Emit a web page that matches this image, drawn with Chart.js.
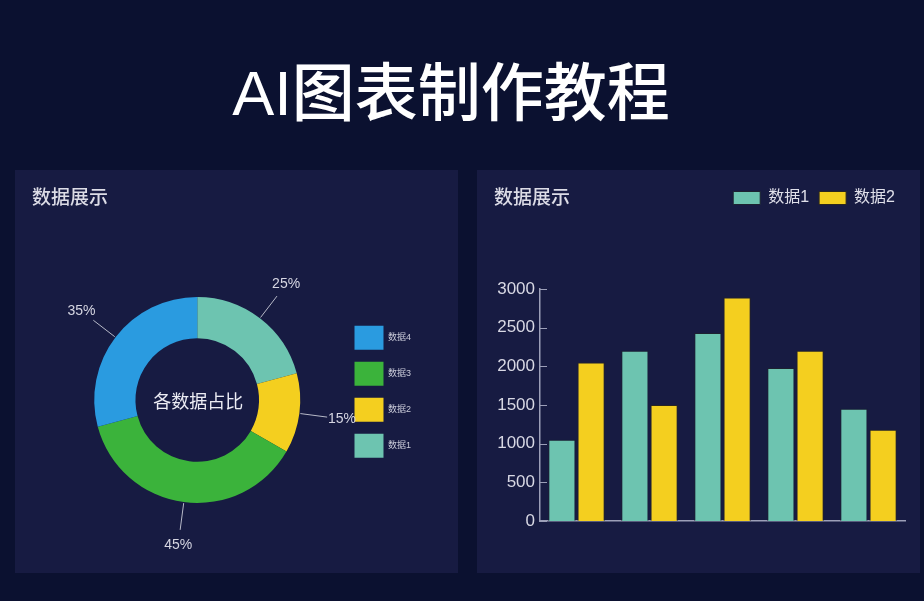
<!DOCTYPE html>
<html lang="zh">
<head>
<meta charset="utf-8">
<title>AI图表制作教程</title>
<script src="https://cdn.jsdelivr.net/npm/chart.js@4"></script>
<style>
  html, body {
    margin: 0;
    padding: 0;
    width: 924px;
    height: 601px;
    background: #0b1130;
    overflow: hidden;
    font-family: "Liberation Sans", "Noto Sans CJK SC", sans-serif;
  }
  .main-title {
    position: absolute;
    left: 451px;
    top: 62px;
    transform: translateX(-50%);
    margin: 0;
    font-size: 63px;
    line-height: 1;
    font-weight: 500;
    color: #ffffff;
    white-space: nowrap;
  }
  .panel {
    position: absolute;
    top: 170px;
    width: 443px;
    height: 403px;
    background: #171b42;
  }
  .panel h3 {
    position: absolute;
    left: 17px;
    top: 18px;
    margin: 0;
    font-size: 19px;
    line-height: 1;
    font-weight: 500;
    color: #dcdce6;
    z-index: 2;
  }
  .panel canvas {
    position: absolute;
    left: 0;
    top: 0;
  }
</style>
</head>
<body>
<h1 class="main-title">AI图表制作教程</h1>

<div class="panel" style="left: 15px;">
  <h3>数据展示</h3>
  <canvas id="pieChart" width="443" height="403"></canvas>
</div>

<div class="panel" style="left: 477px;">
  <h3>数据展示</h3>
  <canvas id="barChart" width="443" height="403"></canvas>
</div>

<script>
// donut data
const pieLabels = ["数据1", "数据2", "数据3", "数据4"];
const pieValues = [25, 15, 45, 35];
const pieColors = ["#6dc4b0", "#f4cf1f", "#3bb33b", "#2a9be0"];

// bar data
const barCategories = ["类别1", "类别2", "类别3", "类别4", "类别5"];
const series1 = [1050, 2200, 2430, 1980, 1450];
const series2 = [2050, 1500, 2890, 2200, 1180];
const yTicks = [0, 500, 1000, 1500, 2000, 2500, 3000];

const textColor = "#d6d6e2";
const axisColor = "#9c9fb8";

Chart.defaults.font.family = '"Liberation Sans", "Noto Sans CJK SC", sans-serif';
Chart.defaults.color = textColor;
Chart.defaults.animation = false;

// percent labels with leader lines
const pctLabels = {
  id: "pctLabels",
  afterDatasetsDraw(chart) {
    const ctx = chart.ctx;
    const meta = chart.getDatasetMeta(0);
    ctx.save();
    ctx.strokeStyle = "#b8bac8";
    ctx.lineWidth = 1;
    ctx.fillStyle = textColor;
    ctx.font = '14px "Liberation Sans", "Noto Sans CJK SC", sans-serif';
    ctx.textAlign = "center";
    ctx.textBaseline = "middle";
    meta.data.forEach((arc, i) => {
      const p = arc.getProps(["x", "y", "startAngle", "endAngle", "outerRadius"], true);
      const mid = (p.startAngle + p.endAngle) / 2;
      const cos = Math.cos(mid);
      const sin = Math.sin(mid);
      ctx.beginPath();
      ctx.moveTo(p.x + cos * (p.outerRadius + 1), p.y + sin * (p.outerRadius + 1));
      ctx.lineTo(p.x + cos * (p.outerRadius + 28), p.y + sin * (p.outerRadius + 28));
      ctx.stroke();
      ctx.fillText(pieValues[i] + "%", p.x + cos * (p.outerRadius + 43), p.y + sin * (p.outerRadius + 43));
    });
    ctx.restore();
  },
};

// text in the middle of the donut
const centerText = {
  id: "centerText",
  afterDraw(chart) {
    const ctx = chart.ctx;
    const arc = chart.getDatasetMeta(0).data[0];
    ctx.save();
    ctx.fillStyle = "#ececf4";
    ctx.font = '18px "Noto Sans CJK SC", sans-serif';
    ctx.textAlign = "center";
    ctx.textBaseline = "middle";
    ctx.fillText("各数据占比", arc.x + 1, arc.y + 1);
    ctx.restore();
  },
};

new Chart(document.getElementById("pieChart").getContext("2d"), {
  type: "doughnut",
  data: {
    labels: pieLabels,
    datasets: [
      {
        data: pieValues,
        backgroundColor: pieColors,
        borderWidth: 0,
      },
    ],
  },
  options: {
    responsive: false,
    cutout: "60%",
    layout: { padding: { left: 37, right: 37, top: 127, bottom: 70 } },
    plugins: {
      legend: {
        position: "right",
        align: "start",
        reverse: true,
        // empty title only to move the items down a bit
        title: { display: true, text: "", padding: 0, font: { size: 14 } },
        labels: {
          boxWidth: 29,
          boxHeight: 24,
          padding: 12,
          color: "#c9cad8",
          font: { size: 9 },
        },
      },
      tooltip: { enabled: false },
    },
  },
  plugins: [pctLabels, centerText],
});

// push the chart area down below the legend
const legendGap = {
  id: "legendGap",
  beforeInit(chart) {
    const fit = chart.legend.fit;
    chart.legend.fit = function () {
      fit.bind(chart.legend)();
      this.height += 73;
    };
  },
};

// small tick marks on the inner side of the y axis
const innerTicks = {
  id: "innerTicks",
  afterDraw(chart) {
    const ctx = chart.ctx;
    const yScale = chart.scales.y;
    ctx.save();
    ctx.strokeStyle = axisColor;
    ctx.lineWidth = 1;
    yScale.ticks.forEach((t) => {
      const y = Math.round(yScale.getPixelForValue(t.value)) + 0.5;
      ctx.beginPath();
      ctx.moveTo(yScale.right, y);
      ctx.lineTo(yScale.right + 7, y);
      ctx.stroke();
    });
    ctx.restore();
  },
};

new Chart(document.getElementById("barChart").getContext("2d"), {
  type: "bar",
  data: {
    labels: barCategories,
    datasets: [
      {
        label: "数据1",
        data: series1,
        backgroundColor: "#6dc4b0",
        borderColor: "#1d2230",
        borderWidth: 1,
        barPercentage: 0.93,
        categoryPercentage: 0.8,
      },
      {
        label: "数据2",
        data: series2,
        backgroundColor: "#f4cf1f",
        borderColor: "#2a2620",
        borderWidth: 1,
        barPercentage: 0.93,
        categoryPercentage: 0.8,
      },
    ],
  },
  options: {
    responsive: false,
    layout: { padding: { left: 8, right: 15, top: 10, bottom: 52 } },
    plugins: {
      legend: {
        position: "top",
        align: "end",
        labels: {
          boxWidth: 27,
          boxHeight: 13,
          padding: 10,
          color: "#e0e0ea",
          font: { size: 16 },
        },
      },
      tooltip: { enabled: false },
    },
    scales: {
      x: {
        ticks: { display: false },
        grid: { display: false, drawTicks: false },
        border: { display: true, color: axisColor, width: 1.5 },
      },
      y: {
        min: 0,
        max: 3000,
        afterFit(scale) {
          scale.width = 55;
        },
        afterBuildTicks(scale) {
          scale.ticks = yTicks.map((v) => ({ value: v }));
        },
        ticks: {
          padding: 5,
          color: "#d8d8e4",
          font: { size: 17 },
          callback: (v) => String(v),
        },
        grid: { display: false, drawTicks: false },
        border: { display: true, color: axisColor, width: 1.5 },
      },
    },
  },
  plugins: [legendGap, innerTicks],
});
</script>
</body>
</html>
